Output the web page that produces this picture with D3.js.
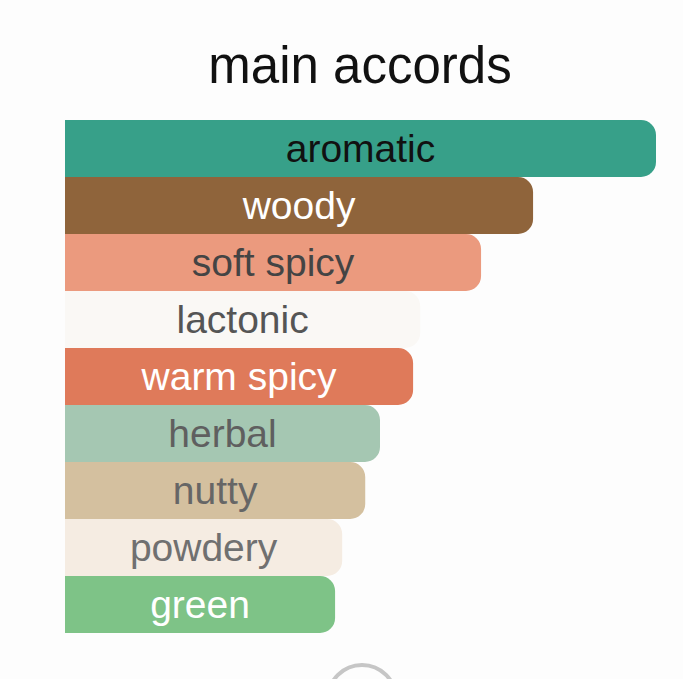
<!DOCTYPE html>
<html>
<head>
<meta charset="utf-8">
<script src="https://cdn.jsdelivr.net/npm/d3@7"></script>
<style>
html,body{margin:0;padding:0;background:#fdfdfd;}
svg{display:block;}
</style>
</head>
<body>
<svg id="chart" width="683" height="679"></svg>
<script>
const categories = ["aromatic","woody","soft spicy","lactonic","warm spicy","herbal","nutty","powdery","green"];
const values = [100, 79.2, 70.4, 60.1, 58.9, 53.3, 50.8, 46.9, 45.7];
const barColors = ["#37a089","#8f643b","#eb9a7e","#faf8f5","#df7a5a","#a5c7b2","#d4c09f","#f5ece2","#7ec387"];
const textColors = ["#111111","#ffffff","#444444","#555555","#ffffff","#5f5f5f","#666666","#707070","#ffffff"];

const svg = d3.select("#chart");
const x = d3.scaleLinear().domain([0,100]).range([65,656]);
const y = d3.scaleBand().domain(categories).range([120,633]).padding(0);
const r = 15;

svg.append("text")
  .attr("x", 360).attr("y", 83)
  .attr("text-anchor","middle")
  .attr("font-family","'Liberation Sans', Arial, Helvetica, sans-serif")
  .attr("font-size", 51)
  .attr("fill","#111")
  .text("main accords");

function barPath(x0, x1, y0, h){
  const rr = Math.min(r, (x1-x0), h/2);
  return `M${x0},${y0} H${x1-rr} A${rr},${rr} 0 0 1 ${x1},${y0+rr} V${y0+h-rr} A${rr},${rr} 0 0 1 ${x1-rr},${y0+h} H${x0} Z`;
}

const data = categories.map((c,i)=>({c, v: values[i], fill: barColors[i], tc: textColors[i]}));

const g = svg.append("g");
g.selectAll("path.bar").data(data).enter().append("path")
  .attr("class","bar")
  .attr("d", d => barPath(x(0), x(d.v), y(d.c), y.bandwidth()))
  .attr("fill", d => d.fill);

g.selectAll("text.lbl").data(data).enter().append("text")
  .attr("class","lbl")
  .attr("x", d => (x(0)+x(d.v))/2)
  .attr("y", d => y(d.c) + y.bandwidth()/2 + 13)
  .attr("text-anchor","middle")
  .attr("font-family","'Liberation Sans', Arial, Helvetica, sans-serif")
  .attr("font-size", 39)
  .attr("fill", d => d.tc)
  .text(d => d.c);

svg.append("circle")
  .attr("cx", 362).attr("cy", 699).attr("r", 34)
  .attr("fill","none").attr("stroke","#c6c6c6").attr("stroke-width", 4);
</script>
</body>
</html>
